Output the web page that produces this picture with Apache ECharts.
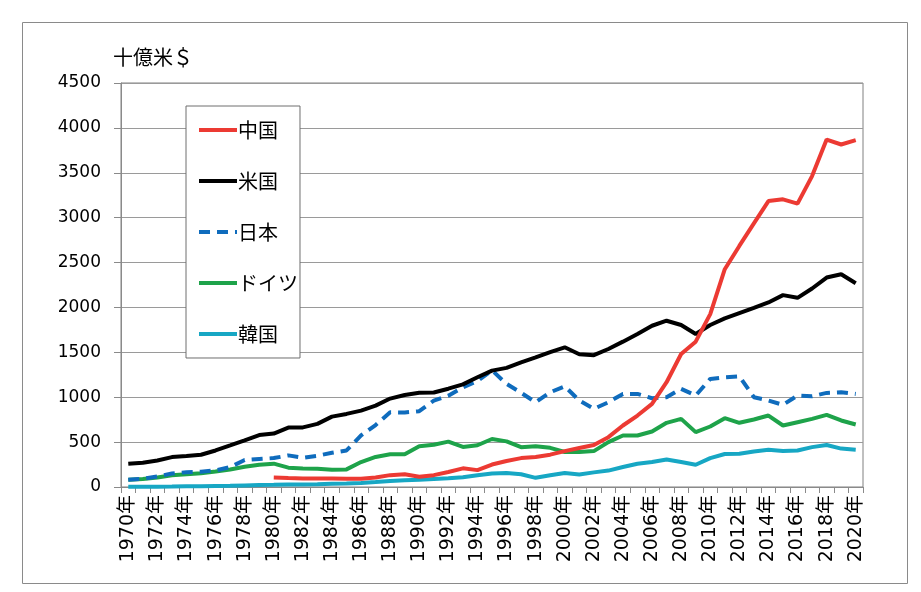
<!DOCTYPE html>
<html><head><meta charset="utf-8">
<script src="https://cdn.jsdelivr.net/npm/echarts@6/dist/echarts.min.js"></script>
<style>html,body{margin:0;padding:0;background:#fff}#c{width:921px;height:592px}</style>
</head><body><div id="c"></div>
<script>
const years = [];
for (let y = 1970; y <= 2020; y++) years.push(y + '年');

const china = [null,null,null,null,null,null,null,null,null,null,
  105,100,96,96,96,92,92,105,132,142,
  115,132,167,208,188,250,290,322,335,360,
  400,435,468,555,685,796,926,1167,1481,1619,
  1926,2426,2685,2937,3185,3204,3156,3463,3870,3815,3863];
const usa = [259,270,296,333,344,359,407,463,520,578,
  595,662,664,703,784,814,851,906,985,1025,
  1050,1052,1095,1143,1222,1296,1327,1389,1444,1503,
  1556,1478,1468,1537,1619,1704,1796,1852,1804,1704,
  1804,1878,1937,1996,2056,2137,2107,2211,2333,2370,2270];
const japan = [81,92,118,150,165,170,185,222,300,311,
  322,352,326,348,381,407,574,690,832,830,
  845,962,1017,1110,1180,1300,1148,1050,944,1055,
  1122,963,870,944,1037,1037,989,1000,1093,1019,
  1204,1222,1233,1000,963,915,1019,1011,1048,1056,1037];
const germany = [81,88,105,130,142,152,172,195,225,248,
  260,215,207,203,192,196,278,335,365,365,
  455,470,505,446,465,535,508,444,455,436,
  390,390,400,500,574,574,618,715,759,611,
  674,767,715,752,796,685,722,759,804,741,696];
const korea = [3,3,4,5,7,8,11,14,18,22,
  24,27,29,32,36,38,45,55,67,75,
  80,90,97,108,130,150,155,142,102,130,
  157,140,163,183,222,259,278,307,278,248,
  322,368,370,396,415,402,407,444,468,428,415];

const seriesNames = ['中国','米国','日本','ドイツ','韓国'];
const seriesData = [china, usa, japan, germany, korea];
const seriesColors = ['#ec3a33','#000000','#0f6cbd','#1ea34a','#17a7c4'];

const FONT = 'DejaVu Sans, "Noto Sans CJK JP", sans-serif';
const chart = echarts.init(document.getElementById('c'));
chart.setOption({
  animation: false,
  backgroundColor: '#fff',
  title: { text: '十億米＄', left: 108, top: 42,
    textStyle: { fontFamily: '"Noto Sans CJK JP", sans-serif', fontSize: 20, fontWeight: 'normal', color: '#000' } },
  graphic: [{ type: 'rect', shape: { x: 22.5, y: 22.5, width: 885, height: 561 },
    style: { fill: 'none', stroke: '#8a8a8a', lineWidth: 1 }, silent: true }],
  grid: { left: 121, right: 58, top: 83, bottom: 105, show: true, borderColor: '#808080', borderWidth: 1 },
  legend: {
    orient: 'vertical', left: 186, top: 106,
    padding: [14, 2, 14, 11], itemGap: 31, itemWidth: 38, itemHeight: 20,
    backgroundColor: '#fff', borderColor: '#6e6e6e', borderWidth: 1,
    itemStyle: { opacity: 0 },
    lineStyle: { width: 4 },
    textStyle: { fontFamily: '"Noto Sans CJK JP", sans-serif', fontSize: 20, color: '#000', padding: [0,0,0,-4] },
    data: seriesNames
  },
  xAxis: {
    type: 'category', data: years, boundaryGap: true,
    axisLine: { lineStyle: { color: '#8a8a8a' } },
    axisTick: { show: true, interval: 0, length: 6, lineStyle: { color: '#8a8a8a' } },
    axisLabel: { interval: 1, rotate: 90, fontFamily: FONT, fontSize: 19, color: '#000', margin: 8 }
  },
  yAxis: {
    type: 'value', min: 0, max: 4500, interval: 500,
    axisLine: { show: true, lineStyle: { color: '#8a8a8a' } },
    axisTick: { show: true, length: 7, lineStyle: { color: '#8a8a8a' } },
    axisLabel: { fontFamily: FONT, fontSize: 17, color: '#000', margin: 20, formatter: v => String(v) },
    splitLine: { lineStyle: { color: '#9a9a9a' } }
  },
  series: seriesNames.map((n, i) => ({
    name: n, type: 'line', data: seriesData[i], symbol: 'none', connectNulls: false,
    color: seriesColors[i],
    lineStyle: { color: seriesColors[i], width: 4, type: i === 2 ? [11, 7] : 'solid' },
    z: [5,4,3,2,1][i]
  }))
});
</script></body></html>
